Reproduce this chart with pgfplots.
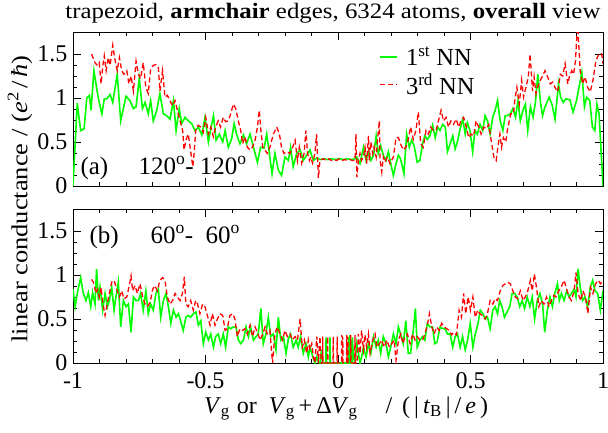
\documentclass[border=0pt]{standalone}
\usepackage{pgfplots}
\pgfplotsset{compat=1.18}
\usepackage{graphicx}
\usepackage{fontspec}
\setmainfont{Liberation Serif}
\definecolor{xg}{RGB}{0,255,0}
\definecolor{xr}{RGB}{255,0,0}
\pgfplotsset{
  panel/.style={
    scale only axis, width=530pt, height=154pt,
    xmin=-1, xmax=1, ymin=0, ymax=1.75,
    xtick={-1,-0.5,0,0.5,1}, ytick={0,0.5,1,1.5},
    minor x tick num=4, minor y tick num=3,
    major tick length=8pt, minor tick length=4pt,
    axis line style={line width=1pt},
    every tick/.style={black, line width=0.8pt},
    tick label style={font=\fontsize{24}{26}\selectfont},
    /pgf/number format/assume math mode=true,
    yticklabel style={xshift=-2pt},
    xticklabel style={yshift=-6pt},
  },
  g/.style={color=xg, line width=1.6pt, mark=none},
  r/.style={color=xr, line width=1.3pt, dash pattern=on 5pt off 3pt, mark=none},
}
\begin{document}
\begin{tikzpicture}
\useasboundingbox (0,0) rectangle (608pt,432pt);
% ---------- top panel ----------
\begin{axis}[panel, at={(73pt,246pt)}, anchor=south west, xticklabels={},
  legend style={at={(0.572,0.93)}, anchor=north west, draw=none, fill=none,
    font=\fontsize{24.5}{26}\selectfont, row sep=2pt},
  legend cell align=left]
\addplot[g] coordinates {
(-1.000,0.00) (-0.984,0.94) (-0.971,0.63) (-0.958,0.65) (-0.948,1.00) (-0.938,1.03)
(-0.932,0.86) (-0.921,1.31) (-0.908,1.06) (-0.901,0.95) (-0.891,0.82) (-0.882,0.99)
(-0.873,0.99) (-0.860,1.04) (-0.850,0.95) (-0.833,1.27) (-0.820,0.74) (-0.800,1.02)
(-0.785,0.97) (-0.772,0.88) (-0.762,0.90) (-0.750,1.22) (-0.738,0.88) (-0.728,0.95)
(-0.716,0.82) (-0.707,0.97) (-0.697,0.74) (-0.684,0.86) (-0.672,1.05) (-0.659,0.82)
(-0.647,0.80) (-0.634,0.76) (-0.621,0.97) (-0.611,0.63) (-0.599,0.88) (-0.590,0.71)
(-0.577,0.78) (-0.565,0.74) (-0.552,0.71) (-0.540,0.63) (-0.527,0.67) (-0.514,0.58)
(-0.502,0.78) (-0.489,0.50) (-0.480,0.65) (-0.470,0.80) (-0.460,0.52) (-0.448,0.59)
(-0.435,0.50) (-0.426,0.63) (-0.414,0.44) (-0.401,0.54) (-0.392,0.71) (-0.382,0.58)
(-0.370,0.48) (-0.357,0.58) (-0.345,0.48) (-0.332,0.59) (-0.319,0.44) (-0.304,0.27)
(-0.292,0.44) (-0.279,0.43) (-0.269,0.59) (-0.259,0.37) (-0.249,0.14) (-0.238,0.37)
(-0.225,0.18) (-0.213,0.12) (-0.200,0.33) (-0.187,0.29) (-0.179,0.44) (-0.169,0.22)
(-0.156,0.37) (-0.143,0.41) (-0.131,0.29) (-0.118,0.35) (-0.106,0.41) (-0.093,0.29)
(-0.080,0.32) (-0.068,0.30) (-0.055,0.31) (-0.040,0.30) (-0.025,0.31) (-0.010,0.30)
(0.005,0.31) (0.020,0.30) (0.035,0.31) (0.050,0.30) (0.064,0.31) (0.0705,0.33)
(0.083,0.255) (0.096,0.44) (0.106,0.29) (0.115,0.39) (0.124,0.29) (0.134,0.35)
(0.144,0.57) (0.152,0.37) (0.161,0.46) (0.171,0.35) (0.181,0.29) (0.190,0.39)
(0.199,0.255) (0.209,0.12) (0.219,0.255) (0.228,0.35) (0.236,0.31) (0.249,0.14)
(0.259,0.59) (0.269,0.44) (0.278,0.52) (0.287,0.46) (0.299,0.27) (0.309,0.29)
(0.319,0.48) (0.328,0.57) (0.337,0.53) (0.347,0.57) (0.357,0.69) (0.367,0.55)
(0.376,0.67) (0.385,0.63) (0.395,0.70) (0.405,0.67) (0.413,0.39) (0.423,0.48)
(0.433,0.57) (0.442,0.42) (0.452,0.52) (0.461,0.65) (0.471,0.76) (0.480,0.59)
(0.488,0.72) (0.498,0.63) (0.508,0.39) (0.517,0.63) (0.526,0.59) (0.536,0.70)
(0.546,0.63) (0.555,0.80) (0.564,0.74) (0.574,0.59) (0.584,0.78) (0.593,0.86)
(0.602,0.97) (0.612,0.74) (0.622,0.63) (0.631,0.80) (0.640,0.80) (0.650,0.82)
(0.660,0.88) (0.670,0.78) (0.679,0.97) (0.688,0.74) (0.698,0.86) (0.707,0.93)
(0.716,0.63) (0.726,0.90) (0.736,0.78) (0.745,0.95) (0.754,1.27) (0.764,0.95)
(0.772,0.80) (0.781,0.90) (0.797,1.01) (0.808,0.92) (0.819,0.76) (0.832,1.16)
(0.840,1.01) (0.850,0.95) (0.860,0.99) (0.875,0.98) (0.887,0.84) (0.900,0.97)
(0.920,1.29) (0.930,0.90) (0.938,1.01) (0.950,0.97) (0.960,0.67) (0.969,0.63)
(0.977,0.93) (0.985,0.82) (1.000,0.00)
};
\addlegendentry{\hspace{6pt}1\textsuperscript{st} NN}
\addplot[r] coordinates {
(-0.930,1.50) (-0.917,1.40) (-0.908,1.37) (-0.901,1.40) (-0.894,1.16) (-0.888,1.35)
(-0.882,1.48) (-0.875,1.31) (-0.867,1.46) (-0.860,1.37) (-0.850,1.60) (-0.842,1.44)
(-0.833,1.31) (-0.825,1.46) (-0.816,1.31) (-0.808,1.27) (-0.797,1.31) (-0.789,1.16)
(-0.781,1.25) (-0.772,1.08) (-0.762,1.42) (-0.753,1.27) (-0.745,1.22) (-0.735,1.40)
(-0.725,1.12) (-0.716,1.05) (-0.707,1.33) (-0.697,1.37) (-0.687,1.38) (-0.678,1.35)
(-0.672,1.08) (-0.662,1.31) (-0.653,1.01) (-0.644,1.03) (-0.634,0.97) (-0.624,0.91)
(-0.615,0.97) (-0.606,0.86) (-0.596,0.74) (-0.586,0.63) (-0.581,0.41) (-0.574,0.52)
(-0.565,0.59) (-0.558,0.44) (-0.548,0.22) (-0.543,0.37) (-0.536,0.67) (-0.527,0.69)
(-0.518,0.67) (-0.508,0.61) (-0.499,0.78) (-0.489,0.59) (-0.480,0.67) (-0.470,0.56)
(-0.462,0.67) (-0.452,0.74) (-0.443,0.67) (-0.433,0.78) (-0.424,0.73) (-0.414,0.74)
(-0.405,0.82) (-0.395,0.93) (-0.386,0.88) (-0.376,0.74) (-0.367,0.63) (-0.360,0.48)
(-0.351,0.56) (-0.342,0.44) (-0.332,0.41) (-0.323,0.44) (-0.313,0.52) (-0.304,0.67)
(-0.297,0.86) (-0.291,0.63) (-0.284,0.44) (-0.276,0.41) (-0.267,0.37) (-0.257,0.44)
(-0.244,0.59) (-0.231,0.67) (-0.221,0.59) (-0.213,0.44) (-0.204,0.37) (-0.194,0.39)
(-0.181,0.37) (-0.171,0.44) (-0.162,0.52) (-0.153,0.29) (-0.146,0.44) (-0.137,0.26)
(-0.128,0.37) (-0.121,0.63) (-0.115,0.37) (-0.108,0.29) (-0.103,0.33) (-0.096,0.26)
(-0.087,0.37) (-0.081,0.59) (-0.074,0.09) (-0.068,0.29) (-0.055,0.31) (-0.045,0.29)
(-0.035,0.31) (-0.025,0.29) (-0.015,0.30) (-0.005,0.29) (0.005,0.31) (0.015,0.29)
(0.025,0.30) (0.035,0.29) (0.045,0.30) (0.055,0.29) (0.064,0.29) (0.068,0.59)
(0.071,0.10) (0.077,0.29) (0.083,0.37) (0.089,0.29) (0.096,0.33) (0.102,0.44)
(0.108,0.255) (0.115,0.57) (0.118,0.29) (0.124,0.50) (0.131,0.37) (0.136,0.44)
(0.144,0.33) (0.150,0.55) (0.156,0.74) (0.159,0.29) (0.165,0.16) (0.171,0.33)
(0.177,0.27) (0.186,0.33) (0.196,0.255) (0.209,0.33) (0.219,0.55) (0.228,0.55)
(0.236,0.48) (0.246,0.41) (0.256,0.44) (0.265,0.53) (0.274,0.67) (0.284,0.53)
(0.294,0.63) (0.303,0.84) (0.312,0.48) (0.322,0.44) (0.332,0.63) (0.341,0.59)
(0.350,0.67) (0.360,0.63) (0.370,0.63) (0.379,0.74) (0.389,0.86) (0.398,0.74)
(0.408,0.78) (0.417,0.67) (0.426,0.74) (0.436,0.70) (0.446,0.76) (0.455,0.67)
(0.464,0.74) (0.474,0.78) (0.484,0.67) (0.493,0.55) (0.502,0.59) (0.512,0.57)
(0.521,0.74) (0.531,0.67) (0.540,0.59) (0.550,0.67) (0.560,0.65) (0.569,0.70)
(0.578,0.52) (0.588,0.33) (0.597,0.29) (0.605,0.48) (0.611,0.59) (0.617,0.44)
(0.624,0.55) (0.633,0.50) (0.639,0.63) (0.652,0.82) (0.662,0.82) (0.667,0.97)
(0.675,1.12) (0.684,0.93) (0.693,1.20) (0.700,1.01) (0.709,1.12) (0.718,1.24)
(0.725,1.50) (0.734,1.08) (0.740,1.24) (0.747,1.05) (0.753,1.12) (0.763,1.20)
(0.772,1.25) (0.781,1.31) (0.791,1.24) (0.801,1.16) (0.810,1.18) (0.819,1.12)
(0.829,1.07) (0.839,1.27) (0.848,1.25) (0.857,1.39) (0.867,1.16) (0.873,1.24)
(0.882,1.31) (0.889,1.27) (0.896,1.42) (0.904,1.85) (0.914,1.31) (0.923,1.16)
(0.932,1.24) (0.942,1.12) (0.952,1.07) (0.962,1.20) (0.973,1.42) (0.986,1.51)
(0.995,1.50) (1.000,1.39)
};
\addlegendentry{\hspace{6pt}3\textsuperscript{rd} NN}
\end{axis}
% ---------- bottom panel ----------
\begin{axis}[panel, at={(73pt,69pt)}, anchor=south west]
\addplot[g] coordinates {
(-1.000,0.84) (-0.992,0.64) (-0.984,0.79) (-0.971,0.97) (-0.961,0.79) (-0.951,0.71)
(-0.942,0.80) (-0.933,0.64) (-0.926,0.80) (-0.917,0.67) (-0.911,1.07) (-0.904,0.71)
(-0.898,0.86) (-0.888,0.60) (-0.879,0.79) (-0.870,0.64) (-0.863,0.71) (-0.854,0.86)
(-0.845,0.60) (-0.838,0.75) (-0.829,0.92) (-0.820,0.41) (-0.810,0.71) (-0.800,0.64)
(-0.791,0.67) (-0.781,0.35) (-0.772,0.75) (-0.762,0.71) (-0.753,0.71) (-0.745,0.79)
(-0.735,0.60) (-0.725,0.82) (-0.716,0.56) (-0.707,0.67) (-0.697,0.60) (-0.687,0.79)
(-0.678,0.84) (-0.669,0.52) (-0.659,0.71) (-0.649,0.79) (-0.640,0.64) (-0.631,0.45)
(-0.621,0.60) (-0.611,0.52) (-0.602,0.56) (-0.594,0.48) (-0.584,0.37) (-0.574,0.52)
(-0.565,0.54) (-0.556,0.52) (-0.546,0.56) (-0.536,0.58) (-0.527,0.43) (-0.518,0.48)
(-0.508,0.22) (-0.499,0.35) (-0.489,0.26) (-0.480,0.33) (-0.470,0.18) (-0.462,0.30)
(-0.452,0.33) (-0.443,0.22) (-0.433,0.33) (-0.424,0.18) (-0.414,0.41) (-0.405,0.39)
(-0.395,0.41) (-0.385,0.41) (-0.376,0.26) (-0.367,0.22) (-0.357,0.26) (-0.347,0.41)
(-0.338,0.30) (-0.330,0.41) (-0.319,0.26) (-0.309,0.30) (-0.301,0.33) (-0.291,0.62)
(-0.282,0.22) (-0.272,0.33) (-0.263,0.52) (-0.254,0.30) (-0.244,0.33) (-0.234,0.15)
(-0.225,0.52) (-0.216,0.26) (-0.206,0.30) (-0.196,0.11) (-0.187,0.28) (-0.179,0.33)
(-0.169,0.18) (-0.158,0.26) (-0.150,0.18) (-0.141,0.30) (-0.131,0.11) (-0.121,0.22)
(-0.112,0.07) (-0.106,0.18) (-0.099,0.11) (-0.093,0.05) (-0.087,0.00) (-0.080,0.07)
(-0.074,0.01) (-0.068,0.00) (-0.062,0.15) (-0.058,0.00) (-0.046,0.00) (-0.045,0.29)
(-0.044,0.00) (-0.031,0.00) (-0.030,0.29) (-0.029,0.00) (0.040,0.00) (0.041,0.29)
(0.042,0.00) (0.044,0.00) (0.045,0.32) (0.050,0.00) (0.053,0.00) (0.054,0.29)
(0.058,0.07) (0.064,0.00) (0.071,0.22) (0.083,0.00) (0.089,0.07) (0.096,0.18)
(0.106,0.07) (0.115,0.22) (0.124,0.11) (0.134,0.30) (0.144,0.18) (0.152,0.26)
(0.161,0.11) (0.171,0.30) (0.181,0.22) (0.190,0.07) (0.199,0.18) (0.209,0.33)
(0.219,0.22) (0.228,0.41) (0.236,0.33) (0.246,0.22) (0.256,0.48) (0.265,0.11)
(0.274,0.11) (0.284,0.37) (0.292,0.62) (0.299,0.18) (0.309,0.26) (0.319,0.30)
(0.328,0.26) (0.337,0.45) (0.347,0.41) (0.357,0.41) (0.365,0.22) (0.374,0.24)
(0.385,0.41) (0.395,0.39) (0.404,0.39) (0.413,0.33) (0.423,0.33) (0.433,0.18)
(0.442,0.30) (0.451,0.33) (0.461,0.18) (0.470,0.30) (0.480,0.15) (0.489,0.26)
(0.499,0.45) (0.509,0.18) (0.518,0.33) (0.527,0.43) (0.537,0.60) (0.547,0.56)
(0.555,0.50) (0.564,0.52) (0.574,0.39) (0.584,0.60) (0.593,0.64) (0.602,0.56)
(0.610,0.71) (0.619,0.64) (0.628,0.52) (0.638,0.58) (0.648,0.64) (0.657,0.79)
(0.666,0.79) (0.676,0.75) (0.686,0.64) (0.695,0.71) (0.704,0.62) (0.714,0.75)
(0.724,0.64) (0.733,0.75) (0.742,0.50) (0.752,0.71) (0.762,0.79) (0.772,0.67)
(0.780,0.35) (0.790,0.60) (0.800,0.75) (0.809,0.64) (0.818,0.79) (0.828,0.90)
(0.835,0.71) (0.843,0.79) (0.853,0.71) (0.863,0.82) (0.872,0.75) (0.881,0.79)
(0.891,0.84) (0.898,0.75) (0.906,1.07) (0.914,0.86) (0.923,0.71) (0.932,0.75)
(0.942,0.64) (0.952,0.86) (0.961,0.94) (0.970,0.82) (0.980,0.79) (0.990,0.60)
(1.000,0.82)
};
\addplot[r] coordinates {
(-0.930,0.95) (-0.923,0.92) (-0.913,0.79) (-0.907,0.84) (-0.901,0.75) (-0.894,0.86)
(-0.888,0.69) (-0.879,0.54) (-0.873,0.64) (-0.863,0.79) (-0.854,0.92) (-0.845,0.94)
(-0.835,0.84) (-0.825,0.75) (-0.816,0.82) (-0.808,0.73) (-0.797,0.75) (-0.789,0.86)
(-0.781,0.99) (-0.775,0.82) (-0.766,0.88) (-0.757,0.79) (-0.747,0.90) (-0.737,0.75)
(-0.728,0.67) (-0.719,0.64) (-0.709,0.69) (-0.699,0.84) (-0.691,0.88) (-0.682,0.82)
(-0.672,0.94) (-0.662,0.97) (-0.653,0.94) (-0.644,0.75) (-0.634,0.67) (-0.624,0.71)
(-0.615,0.79) (-0.606,0.75) (-0.596,0.71) (-0.587,0.79) (-0.580,0.98) (-0.574,0.67)
(-0.565,0.64) (-0.556,0.71) (-0.546,0.60) (-0.537,0.71) (-0.530,0.67) (-0.521,0.56)
(-0.511,0.67) (-0.502,0.64) (-0.493,0.54) (-0.483,0.43) (-0.474,0.56) (-0.464,0.43)
(-0.455,0.50) (-0.445,0.56) (-0.435,0.54) (-0.426,0.37) (-0.418,0.39) (-0.408,0.54)
(-0.397,0.56) (-0.389,0.50) (-0.380,0.30) (-0.370,0.39) (-0.360,0.37) (-0.351,0.39)
(-0.342,0.33) (-0.332,0.43) (-0.322,0.30) (-0.313,0.41) (-0.304,0.35) (-0.294,0.26)
(-0.284,0.33) (-0.275,0.41) (-0.267,0.33) (-0.257,0.37) (-0.247,0.00) (-0.238,0.33)
(-0.229,0.41) (-0.219,0.33) (-0.209,0.26) (-0.200,0.37) (-0.191,0.30) (-0.181,0.33)
(-0.172,0.26) (-0.162,0.30) (-0.153,0.26) (-0.143,0.50) (-0.135,0.18) (-0.127,0.26)
(-0.118,0.11) (-0.112,0.26) (-0.106,0.15) (-0.099,0.22) (-0.093,0.07) (-0.087,0.00)
(-0.080,0.30) (-0.074,0.00) (-0.068,0.30) (-0.063,0.00) (-0.058,0.00) (-0.0577,0.30)
(-0.057,0.00) (-0.040,0.00) (-0.039,0.30) (-0.038,0.00) (-0.019,0.00) (-0.018,0.30)
(-0.017,0.00) (-0.004,0.00) (-0.003,0.30) (-0.002,0.00) (0.013,0.00) (0.014,0.32)
(0.015,0.00) (0.017,0.00) (0.018,0.30) (0.019,0.00) (0.032,0.00) (0.033,0.32)
(0.034,0.00) (0.036,0.00) (0.037,0.30) (0.038,0.00) (0.047,0.00) (0.048,0.32)
(0.049,0.00) (0.063,0.00) (0.064,0.32) (0.066,0.00) (0.072,0.00) (0.077,0.33)
(0.083,0.11) (0.089,0.37) (0.096,0.15) (0.102,0.32) (0.108,0.18) (0.115,0.33)
(0.121,0.11) (0.131,0.26) (0.140,0.33) (0.146,0.18) (0.156,0.22) (0.165,0.26)
(0.174,0.18) (0.184,0.26) (0.194,0.18) (0.203,0.22) (0.212,0.26) (0.219,0.03)
(0.228,0.26) (0.237,0.33) (0.245,0.22) (0.253,0.30) (0.262,0.33) (0.272,0.22)
(0.282,0.33) (0.291,0.26) (0.299,0.30) (0.309,0.26) (0.319,0.26) (0.328,0.33)
(0.337,0.43) (0.345,0.56) (0.354,0.41) (0.363,0.33) (0.372,0.41) (0.382,0.37)
(0.391,0.45) (0.401,0.41) (0.410,0.39) (0.420,0.37) (0.429,0.32) (0.437,0.35)
(0.447,0.32) (0.457,0.60) (0.466,0.52) (0.474,0.79) (0.482,0.56) (0.491,0.75)
(0.500,0.60) (0.509,0.75) (0.518,0.52) (0.527,0.60) (0.535,0.56) (0.545,0.54)
(0.555,0.50) (0.564,0.56) (0.574,0.71) (0.584,0.67) (0.593,0.73) (0.602,0.71)
(0.612,0.82) (0.622,0.88) (0.631,0.90) (0.640,0.92) (0.650,0.90) (0.660,0.82)
(0.669,0.75) (0.678,0.73) (0.688,0.82) (0.698,0.71) (0.707,0.75) (0.716,0.82)
(0.726,0.94) (0.733,0.82) (0.741,1.01) (0.749,0.86) (0.758,0.64) (0.767,0.71)
(0.777,0.67) (0.787,0.75) (0.796,0.64) (0.805,0.71) (0.815,0.77) (0.823,0.75)
(0.833,0.82) (0.842,0.86) (0.853,0.94) (0.863,0.84) (0.872,0.75) (0.881,0.71)
(0.891,0.82) (0.898,1.03) (0.906,0.79) (0.916,0.71) (0.924,0.82) (0.934,0.75)
(0.943,0.56) (0.953,0.86) (0.962,0.79) (0.972,0.90) (0.981,0.94) (0.991,0.90)
(1.000,0.94)
};
\end{axis}
% ---------- texts ----------
\node[anchor=base east, font=\fontsize{22}{24}\selectfont] at (604pt,413pt)
  {\scalebox{1.13}[1]{trapezoid, \textbf{armchair} edges, 6324 atoms, \textbf{overall} view}};
\node[anchor=base west, font=\fontsize{25}{27}\selectfont] at (77pt,258pt) {(a)};
\node[anchor=base west, font=\fontsize{25}{27}\selectfont] at (135pt,258pt)
  {120\textsuperscript{o}- 120\textsuperscript{o}};
\node[anchor=base west, font=\fontsize{25}{27}\selectfont] at (86pt,189pt) {(b)};
\node[anchor=base west, font=\fontsize{25}{27}\selectfont] at (147pt,189pt)
  {60\textsuperscript{o}-\enspace 60\textsuperscript{o}};
\node[rotate=90, font=\fontsize{23}{25}\selectfont] at (20pt,233pt)
  {\scalebox{1.15}[1]{linear conductance\hspace{6pt}/\hspace{6pt}(\textit{e}\textsuperscript{2}\hspace{3pt}/\hspace{3pt}\textit{ħ})}};
\node[anchor=base, font=\fontsize{24}{26}\selectfont] at (346pt,19pt)
  {\textit{V}\textsubscript{g}\hspace{7pt}or\hspace{12pt}\textit{V}\textsubscript{g}\,+\,Δ\textit{V}\textsubscript{g}\hspace{28pt}/\hspace{10pt}(\,|\,\textit{t}\textsubscript{B}\,|\,/\,\textit{e}\,)};
\end{tikzpicture}
\end{document}
